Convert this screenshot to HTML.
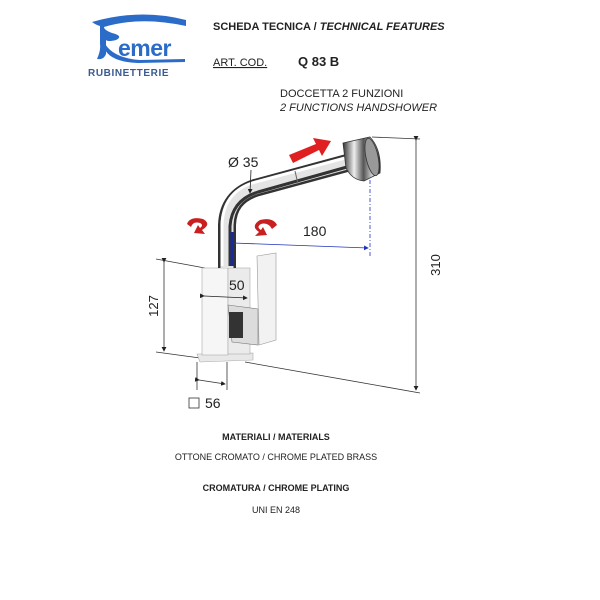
<!DOCTYPE html>
<html><head><meta charset="utf-8"><style>
html,body{margin:0;padding:0;background:#fff;}
svg{display:block;font-family:"Liberation Sans",sans-serif;}
</style></head><body>
<svg width="600" height="600" viewBox="0 0 600 600" xmlns="http://www.w3.org/2000/svg">
<defs>
<linearGradient id="chv" x1="0" y1="0" x2="1" y2="0">
<stop offset="0" stop-color="#333"/><stop offset="0.3" stop-color="#eee"/><stop offset="0.55" stop-color="#555"/><stop offset="0.8" stop-color="#ddd"/><stop offset="1" stop-color="#222"/></linearGradient>
<linearGradient id="vt" x1="0" y1="0" x2="1" y2="0">
<stop offset="0" stop-color="#222"/><stop offset="0.25" stop-color="#ddd"/><stop offset="0.45" stop-color="#222"/><stop offset="0.7" stop-color="#1a2a88"/><stop offset="1" stop-color="#888"/></linearGradient>
<marker id="ah" markerWidth="6" markerHeight="6" refX="5" refY="3" orient="auto"><path d="M0,0 L6,3 L0,6z" fill="#222"/></marker>
<marker id="ab" markerWidth="6" markerHeight="6" refX="5" refY="3" orient="auto"><path d="M0,0 L6,3 L0,6z" fill="#2233bb"/></marker>
</defs>
<!-- logo -->
<path d="M92,22 Q140,8 186,20 L186,26 Q140,16 104,27 Q104,30 112,33 Q124,36 116,40 Q108,42 106,40 L106,54 Q104,60 97,59 Q101,50 100,44 L100,26 Q96,25 92,22z" fill="#2a6cc8"/>
<path d="M104,42 Q112,58 140,60 L185,59 L185,62 L138,63 Q110,62 104,48z" fill="#2a6cc8"/>
<text x="118" y="56" font-size="23" fill="#2a6cc8" font-weight="bold" letter-spacing="-0.5">emer</text>
<text x="88" y="76" font-size="10" fill="#3a5a90" font-weight="bold" letter-spacing="0.6">RUBINETTERIE</text>
<!-- header -->
<text x="213" y="30" font-size="11" font-weight="bold" fill="#222">SCHEDA TECNICA  /  <tspan font-style="italic">TECHNICAL FEATURES</tspan></text>
<text x="213" y="66" font-size="11" fill="#222" text-decoration="underline">ART.  COD.</text>
<text x="298" y="66" font-size="13" font-weight="bold" fill="#222">Q 83 B</text>
<text x="280" y="97" font-size="11" fill="#222">DOCCETTA 2 FUNZIONI</text>
<text x="280" y="111" font-size="11" font-style="italic" fill="#222">2 FUNCTIONS HANDSHOWER</text>
<!-- dimension lines -->
<g stroke="#333" stroke-width="0.8" fill="none">
<line x1="372" y1="137" x2="420" y2="139"/>
<line x1="245" y1="362" x2="420" y2="393"/>
<line x1="416" y1="140" x2="416" y2="390" marker-start="url(#ah)" marker-end="url(#ah)"/>
<line x1="156" y1="259" x2="205" y2="268"/>
<line x1="156" y1="352" x2="200" y2="358"/>
<line x1="164" y1="262" x2="164" y2="351" marker-start="url(#ah)" marker-end="url(#ah)"/>
<line x1="197" y1="362" x2="197" y2="390"/>
<line x1="227" y1="362" x2="227" y2="390"/>
<line x1="199" y1="380" x2="225" y2="384" marker-start="url(#ah)" marker-end="url(#ah)"/>
</g>
<text x="440" y="265" font-size="13" fill="#222" transform="rotate(-90 440 265)" text-anchor="middle">310</text>
<text x="158" y="306" font-size="13" fill="#222" transform="rotate(-90 158 306)" text-anchor="middle">127</text>
<rect x="189" y="398" width="10" height="10" fill="none" stroke="#333" stroke-width="0.8"/>
<text x="205" y="408" font-size="14" fill="#222">56</text>
<!-- faucet base -->
<path d="M197,354 L253,353 L253,360 L200,362z" fill="#e8e8e8" stroke="#aaa" stroke-width="0.6"/>
<rect x="202" y="268" width="26" height="87" fill="#f6f6f6" stroke="#aaa" stroke-width="0.6"/>
<rect x="228" y="268" width="22" height="86" fill="#ebebeb" stroke="#aaa" stroke-width="0.6"/>
<path d="M257,256 L276,253 L276,340 L259,345z" fill="#f2f2f2" stroke="#999" stroke-width="0.6"/>
<path d="M228,305 L258,309 L258,345 L232,342z" fill="#dcdcdc" stroke="#777" stroke-width="0.6"/>
<rect x="229" y="312" width="14" height="26" fill="#333"/>
<!-- tube -->
<path d="M227,268 L227,225 Q228,197 255,188 L347,163" stroke="#333" stroke-width="18" fill="none"/>
<path d="M227,268 L227,225 Q228,197 255,188 L347,163" stroke="#e4e4e4" stroke-width="13" fill="none"/>
<path d="M222,266 L222,225 Q223,193 252,183 L345,158" stroke="#fff" stroke-width="3" fill="none"/>
<path d="M230,266 L230,226 Q232,200 258,192 L347,167" stroke="#333" stroke-width="3" fill="none"/>
<path d="M232,266 L232,232" stroke="#1a2a99" stroke-width="3" fill="none"/>
<line x1="295" y1="171" x2="298" y2="184" stroke="#666" stroke-width="1"/>
<!-- head -->
<path d="M343,143 L370,137 Q382,150 380,173 L364,181 Q352,180 346,168z" fill="url(#chv)" stroke="#333" stroke-width="0.8"/>
<ellipse cx="372" cy="157" rx="6" ry="19" fill="#999" stroke="#333" stroke-width="0.8" transform="rotate(-12 372 157)"/>
<!-- 50 -->
<line x1="204" y1="296" x2="247" y2="298" stroke="#222" stroke-width="0.8" marker-start="url(#ah)" marker-end="url(#ah)"/>
<text x="229" y="290" font-size="14" fill="#222">50</text>
<!-- 180 -->
<line x1="233" y1="243" x2="368" y2="248" stroke="#2233bb" stroke-width="0.8" marker-end="url(#ab)"/>
<line x1="370" y1="180" x2="370" y2="258" stroke="#2233bb" stroke-width="0.8" stroke-dasharray="4,2,1,2"/>
<text x="303" y="236" font-size="14" fill="#222">180</text>
<!-- Ø35 -->
<text x="228" y="167" font-size="14" fill="#222">Ø 35</text>
<line x1="251" y1="170" x2="250" y2="193" stroke="#222" stroke-width="0.8" marker-end="url(#ah)"/>
<!-- red arrow -->
<path d="M289,155 L316,144 L313,138 L331,141 L322,156 L319,150 L293,163z" fill="#e02020"/>
<!-- curl arrows -->
<path d="M187,224 Q190,216 203,219 Q212,224 202,230 L205,234 L194,233 L198,225 L200,228 Q204,225 200,223 Q193,221 191,227z" fill="#c82020"/>
<path d="M277,225 Q273,217 260,220 Q250,226 259,232 L255,236 L267,235 L263,227 L261,230 Q256,227 261,224 Q268,222 272,229z" fill="#c82020"/>
<!-- footer -->
<g font-size="9" fill="#222" text-anchor="middle">
<text x="276" y="440" font-weight="bold">MATERIALI  /  MATERIALS</text>
<text x="276" y="460">OTTONE  CROMATO  /  CHROME  PLATED BRASS</text>
<text x="276" y="491" font-weight="bold">CROMATURA / CHROME PLATING</text>
<text x="276" y="513">UNI EN 248</text>
</g>
</svg>
</body></html>
